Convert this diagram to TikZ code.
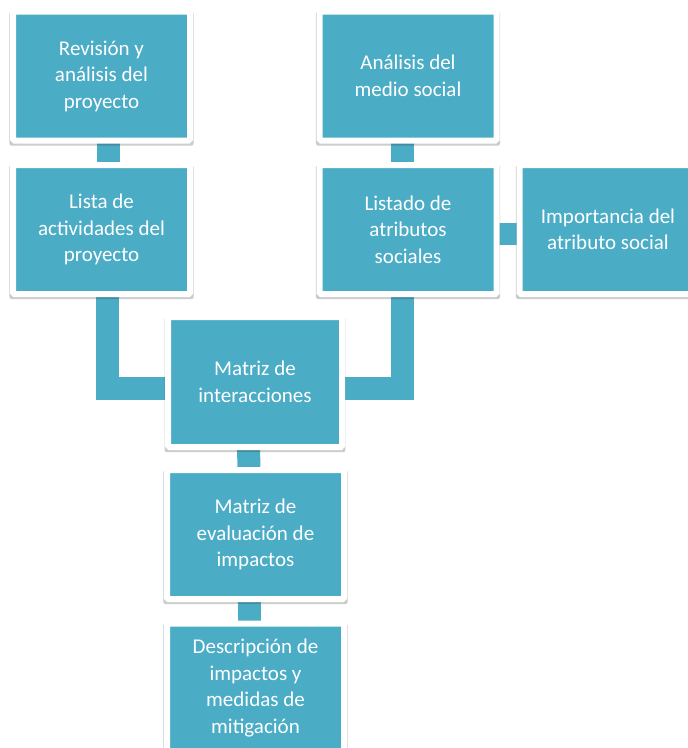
\documentclass[tikz,border=0pt]{standalone}
\usepackage{fontspec}
\setmainfont{Carlito}
\usetikzlibrary{shadows,backgrounds}
\definecolor{turq}{RGB}{75,172,198}
\begin{document}
\begin{tikzpicture}[x=1pt,y=-1pt,
    caja/.style={fill=turq,draw=white,line width=6pt,rounded corners=1.5pt,
      minimum width=177pt,minimum height=129pt,inner sep=0pt,align=center,
      text=white,font=\fontsize{21}{26.5}\selectfont,
      drop shadow={shadow xshift=0pt,shadow yshift=-2.5pt,shadow scale=1.04,
        opacity=0.25,fill=black!80}},
    enlace/.style={draw=turq,line width=23pt}]
  \useasboundingbox (0,0) rectangle (688,748);
  \clip (0,0) rectangle (688,748);
  \node[caja] (rev) at (101.5,76) {Revisión y\\análisis del\\proyecto};
  \node[caja] (lista) at (101.5,229.5) {Lista de\\actividades del\\proyecto};
  \node[caja] (medio) at (408,76) {Análisis del\\medio social};
  \node[caja] (atrib) at (408,229.5) {Listado de\\atributos\\sociales};
  \node[caja] (impor) at (608,229.5) {Importancia del\\atributo social};
  \node[caja,minimum width=174pt,minimum height=130pt] (inter) at (255,382) {Matriz de\\interacciones};
  \node[caja] (evalu) at (255.5,534.5) {Matriz de\\evaluación de\\impactos};
  \node[caja] (desc) at (255.5,688) {Descripción de\\impactos y\\medidas de\\mitigación};
  \begin{scope}[on background layer]
    \draw[enlace] ([xshift=6.5pt]rev.center) -- ([xshift=6.5pt]lista.center);
    \draw[enlace] ([xshift=-5.5pt]medio.center) -- ([xshift=-5.5pt]atrib.center);
    \draw[enlace,line width=22pt] ([yshift=-4.5pt]atrib.center) -- ([yshift=-4.5pt]impor.center);
    \draw[enlace] ([xshift=6pt]lista.center) |- ([yshift=-6.5pt]inter.center);
    \draw[enlace] ([xshift=-6pt]atrib.center) |- ([yshift=-6.5pt]inter.center);
    \draw[enlace] ([xshift=-6.5pt]inter.center) -- ([xshift=-6.5pt]evalu.center);
    \draw[enlace] ([xshift=-6.5pt]evalu.center) -- ([xshift=-6.5pt]desc.center);
  \end{scope}
\end{tikzpicture}
\end{document}
